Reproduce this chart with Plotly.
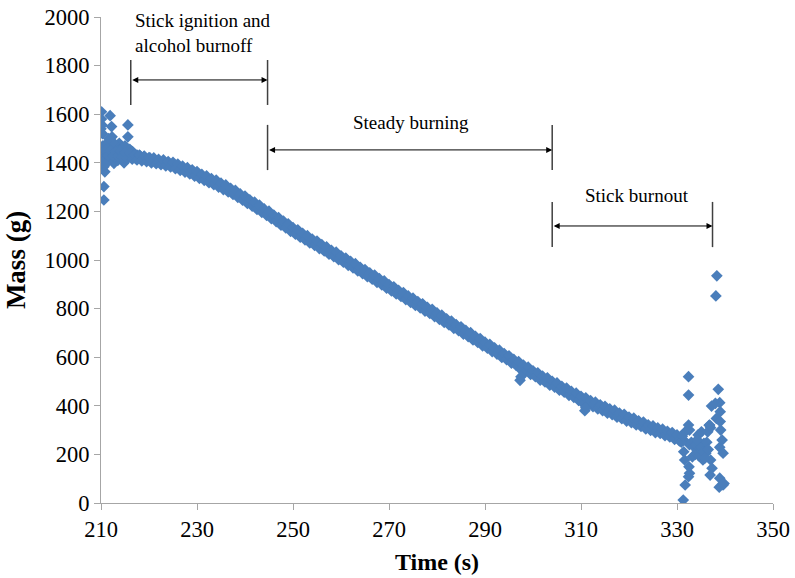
import numpy as np
import plotly.graph_objects as go

# --- Mass record during the burn (g), sampled every 0.5 s from 211 s to 330.5 s ---
band_time = np.arange(211.0, 331.0, 0.5)
band_mass = [
    1452, 1430, 1450, 1428, 1446, 1425, 1448, 1424, 1441, 1418,
    1440, 1415, 1433, 1412, 1432, 1408, 1428, 1405, 1421, 1400,
    1420, 1396, 1414, 1392, 1412, 1387, 1405, 1383, 1402, 1376,
    1395, 1369, 1386, 1362, 1380, 1354, 1371, 1345, 1364, 1336,
    1352, 1328, 1346, 1318, 1335, 1310, 1329, 1300, 1316, 1290,
    1309, 1280, 1295, 1270, 1287, 1258, 1272, 1246, 1263, 1233,
    1248, 1222, 1238, 1208, 1226, 1196, 1210, 1184, 1201, 1170,
    1185, 1158, 1175, 1143, 1160, 1132, 1149, 1118, 1133, 1106,
    1124, 1094, 1110, 1083, 1100, 1070, 1086, 1060, 1078, 1047,
    1063, 1037, 1054, 1024, 1040, 1014, 1032, 1001, 1017, 991,
    1008, 978, 994, 968, 985, 955, 970, 944, 961, 931,
    947, 921, 938, 908, 923, 898, 914, 884, 899, 873,
    890, 860, 875, 850, 866, 837, 852, 826, 843, 813,
    829, 803, 820, 790, 805, 780, 797, 767, 782, 756,
    773, 743, 758, 733, 749, 719, 734, 709, 725, 695,
    710, 685, 701, 671, 686, 661, 677, 647, 662, 637,
    653, 623, 638, 613, 629, 599, 615, 590, 606, 576,
    591, 566, 582, 548, 567, 542, 559, 529, 544, 520,
    536, 506, 522, 498, 515, 485, 501, 477, 494, 464,
    480, 456, 473, 443, 459, 435, 452, 422, 439, 408,
    433, 404, 421, 397, 415, 387, 404, 380, 398, 370,
    387, 364, 382, 353, 370, 347, 365, 337, 354, 331,
    349, 321, 338, 315, 333, 305, 322, 299, 317, 290,
    309, 286, 304, 277, 295, 272, 290, 262, 280, 256,
]

# Readings taken around ignition (unsteady scale while the stick settles)
start_time = [210.0, 210.1, 210.1, 210.2, 210.3, 210.4, 210.5, 210.5, 210.6, 210.6,
              210.6, 210.7, 210.8, 210.9, 211.2, 211.5, 211.9, 212.2, 212.3, 212.7,
              213.0, 213.4, 213.8, 214.2, 214.6, 215.0, 215.6, 215.6, 216.0, 216.4,
              212.0, 211.0, 213.5, 214.8, 216.8, 217.5, 218.2, 212.5, 211.6, 215.2,
              211.3, 212.9, 213.9, 214.4, 215.8, 216.6, 217.2, 219.0, 220.2, 221.4]
start_mass = [1540, 1610, 1580, 1556, 1520, 1470, 1425, 1395, 1384, 1302,
              1247, 1450, 1363, 1410, 1480, 1460, 1594, 1549, 1507, 1398,
              1470, 1455, 1480, 1462, 1445, 1470, 1556, 1507, 1455, 1448,
              1420, 1395, 1410, 1400, 1440, 1432, 1428, 1485, 1500, 1415,
              1440, 1425, 1450, 1418, 1432, 1445, 1418, 1426, 1420, 1402]

# Isolated disturbances during steady burning
spike_time = [297.3, 297.5, 310.8, 311.0]
spike_mass = [505, 520, 380, 392]

# Readings during stick burnout (stick collapsing on the scale)
end_time = [331.3, 331.4, 331.4, 331.6, 331.7, 331.7, 332.4, 332.4, 332.4, 332.4,
            332.5, 332.6, 332.6, 332.6, 333.0, 333.5, 333.8, 334.2, 334.4, 334.8,
            335.1, 335.4, 335.6, 336.0, 336.4, 336.8, 336.9, 337.0, 337.2, 337.3,
            338.2, 338.6, 338.8, 338.9, 338.9, 338.9, 339.0, 339.0, 339.1, 339.4,
            339.6, 339.6, 338.3, 338.1, 330.6, 330.9, 331.1, 333.2, 334.0, 334.5,
            335.0, 335.5, 336.2, 336.5, 334.2, 335.8, 337.0, 338.0, 336.7, 339.8]
end_mass = [12, 259, 211, 177, 74, 293, 520, 444, 321, 108,
            149, 300, 122, 240, 250, 232, 200, 215, 280, 225,
            293, 177, 245, 205, 293, 321, 115, 177, 399, 143,
            348, 468, 65, 413, 229, 102, 376, 335, 300, 259,
            205, 74, 935, 852, 262, 250, 275, 190, 240, 195,
            230, 210, 250, 220, 260, 185, 310, 410, 320, 80]

# Burn phases: boundaries (s), arrow level and text
phase_bounds = [216.2, 244.7, 304.0, 337.4]
phase_labels = ["Stick ignition and<br>alcohol burnoff", "Steady burning", "Stick burnout"]
phase_arrow_mass = [1741, 1453, 1140]
phase_tick_span = [(1638, 1823), (1370, 1556), (1053, 1239)]

x_ticks = [210, 230, 250, 270, 290, 310, 330, 350]
y_ticks = [0, 200, 400, 600, 800, 1000, 1200, 1400, 1600, 1800, 2000]

BLUE = "#4A7EBB"
FONT = "Liberation Serif, Times New Roman, serif"

all_time = list(start_time) + list(band_time) + spike_time + end_time
all_mass = list(start_mass) + list(band_mass) + spike_mass + end_mass

fig = go.Figure()
fig.add_trace(go.Scatter(
    x=all_time, y=all_mass, mode="markers",
    marker=dict(symbol="diamond", size=9, color=BLUE, line=dict(width=0)),
    showlegend=False, hoverinfo="x+y",
))

shapes = []
annotations = []
for i in range(3):
    x0, x1 = phase_bounds[i], phase_bounds[i + 1]
    lo, hi = phase_tick_span[i]
    for xv in (x0, x1):
        shapes.append(dict(type="line", xref="x", yref="y", x0=xv, x1=xv, y0=lo, y1=hi,
                           line=dict(color="#404040", width=1.5)))
    annotations.append(dict(
        x=x1, y=phase_arrow_mass[i], ax=x0, ay=phase_arrow_mass[i],
        xref="x", yref="y", axref="x", ayref="y", text="", showarrow=True,
        arrowhead=2, arrowside="end+start", arrowsize=1.2, arrowwidth=1,
        arrowcolor="#000000", standoff=0, startstandoff=0,
    ))

label_font = dict(family=FONT, size=19, color="#000000")
annotations.append(dict(x=216.7, y=1934, xref="x", yref="y", text=phase_labels[0],
                        showarrow=False, xanchor="left", yanchor="middle", align="left",
                        font=label_font))
annotations.append(dict(x=274.6, y=1564, xref="x", yref="y", text=phase_labels[1],
                        showarrow=False, xanchor="center", yanchor="middle",
                        font=label_font))
annotations.append(dict(x=321.7, y=1267, xref="x", yref="y", text=phase_labels[2],
                        showarrow=False, xanchor="center", yanchor="middle",
                        font=label_font))

axis_common = dict(
    showgrid=False, zeroline=False, showline=True, linecolor="#A6A6A6", linewidth=1,
    ticks="outside", ticklen=6, tickcolor="#A6A6A6", tickwidth=1, automargin=False,
    tickfont=dict(family=FONT, size=22.5, color="#000000"),
)

fig.update_layout(
    width=795, height=578,
    margin=dict(l=101, r=22, t=17, b=75),
    paper_bgcolor="white", plot_bgcolor="white",
    shapes=shapes, annotations=annotations,
    xaxis=dict(range=[210, 350], tickvals=x_ticks,
               title=dict(text="<b>Time (s)</b>", font=dict(family=FONT, size=24, color="#000000"),
                          standoff=12),
               **axis_common),
    yaxis=dict(range=[0, 2000], tickvals=y_ticks,
               title=dict(text="<b>Mass (g)</b>", font=dict(family=FONT, size=27, color="#000000"),
                          standoff=11),
               **axis_common),
)

fig.write_html("out.html")
